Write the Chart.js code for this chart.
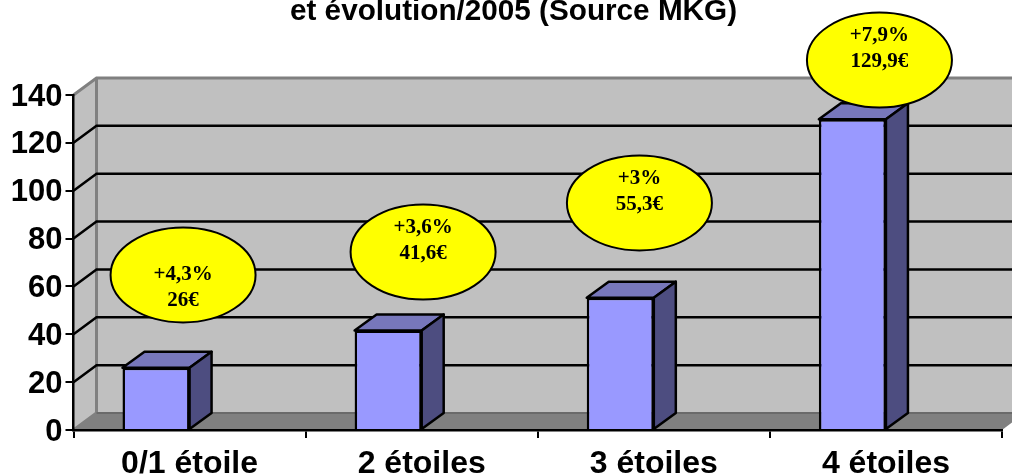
<!DOCTYPE html>
<html>
<head>
<meta charset="utf-8">
<script src="https://cdn.jsdelivr.net/npm/chart.js@4/dist/chart.umd.min.js"></script>
<style>
html, body { margin: 0; padding: 0; background: #fff; overflow: hidden; }
#wrap { width: 1012px; height: 474px; }
</style>
</head>
<body>
<div id="wrap"><canvas id="myChart"></canvas></div>
<script>
const categories = ['0/1 étoile', '2 étoiles', '3 étoiles', '4 étoiles'];
const prices = [26, 41.6, 55.3, 129.9];
const titleText = 'et évolution/2005 (Source MKG)';

// yellow callouts: centre as category position / axis value
const bubbleLine1 = ['+4,3%', '+3,6%', '+3%', '+7,9%'];
const bubbleLine2 = ['26€', '41,6€', '55,3€', '129,9€'];
const bubbleCat = [-0.028, 1.006, 1.938, 2.972];
const bubbleVal = [64.8, 74.4, 94.9, 154.6];

const DX = 23, DY = 17;

const depth3d = {
    id: 'depth3d',
    afterLayout(chart) {
        // title is centred a little right of the canvas
        chart.titleBlock.left += 10;
        chart.titleBlock.right += 10;
    },
    beforeDraw(chart) {
        const { ctx, chartArea: a, scales: { y } } = chart;
        const far = chart.width + 30;
        ctx.save();
        // back + side wall
        ctx.fillStyle = '#c0c0c0';
        ctx.beginPath();
        ctx.moveTo(a.left, a.bottom);
        ctx.lineTo(a.left, a.top);
        ctx.lineTo(a.left + DX, a.top - DY);
        ctx.lineTo(far, a.top - DY);
        ctx.lineTo(far, a.bottom - DY);
        ctx.lineTo(a.left + DX, a.bottom - DY);
        ctx.closePath();
        ctx.fill();
        // floor
        ctx.fillStyle = '#808080';
        ctx.beginPath();
        ctx.moveTo(a.left, a.bottom);
        ctx.lineTo(a.left + DX, a.bottom - DY);
        ctx.lineTo(a.right + DX, a.bottom - DY);
        ctx.lineTo(a.right, a.bottom);
        ctx.closePath();
        ctx.fill();
        // wall edges
        ctx.strokeStyle = '#808080';
        ctx.lineWidth = 3;
        ctx.beginPath();
        ctx.moveTo(a.left, a.top);
        ctx.lineTo(a.left + DX, a.top - DY);
        ctx.lineTo(far, a.top - DY);
        ctx.moveTo(a.left + DX, a.top - DY);
        ctx.lineTo(a.left + DX, a.bottom - DY);
        ctx.moveTo(a.left, a.bottom);
        ctx.lineTo(a.left + DX, a.bottom - DY);
        ctx.stroke();
        ctx.strokeStyle = '#6a6a6a';
        ctx.lineWidth = 2;
        ctx.beginPath();
        ctx.moveTo(a.left + DX, a.bottom - DY);
        ctx.lineTo(far, a.bottom - DY);
        ctx.stroke();
        // gridlines run up the side wall then along the back
        ctx.strokeStyle = '#000';
        ctx.lineWidth = 2.5;
        ctx.beginPath();
        y.ticks.forEach(t => {
            if (t.value === 0 || t.value === y.max) return;
            const py = y.getPixelForValue(t.value);
            ctx.moveTo(a.left, py);
            ctx.lineTo(a.left + DX, py - DY);
            ctx.lineTo(far, py - DY);
        });
        ctx.stroke();
        ctx.restore();
    },
    afterDatasetsDraw(chart) {
        const { ctx, scales: { x, y } } = chart;
        const meta = chart.getDatasetMeta(0);
        const dx = 22, dy = 16;
        ctx.save();
        ctx.lineWidth = 2.5;
        ctx.strokeStyle = '#000';
        ctx.lineJoin = 'round';
        meta.data.forEach(bar => {
            const p = bar.getProps(['x', 'y', 'base', 'width']);
            const l = p.x - p.width / 2, r = p.x + p.width / 2;
            // top face
            ctx.fillStyle = '#7777bb';
            ctx.beginPath();
            ctx.moveTo(l, p.y);
            ctx.lineTo(l + dx, p.y - dy);
            ctx.lineTo(r + dx, p.y - dy);
            ctx.lineTo(r, p.y);
            ctx.closePath();
            ctx.fill();
            ctx.stroke();
            // right face
            ctx.fillStyle = '#4d4d80';
            ctx.beginPath();
            ctx.moveTo(r, p.y);
            ctx.lineTo(r + dx, p.y - dy);
            ctx.lineTo(r + dx, p.base - dy);
            ctx.lineTo(r, p.base);
            ctx.closePath();
            ctx.fill();
            ctx.stroke();
        });
        // callouts
        ctx.textAlign = 'center';
        ctx.textBaseline = 'middle';
        ctx.font = 'bold 21px "Liberation Serif"';
        bubbleCat.forEach((c, i) => {
            const cx = x.getPixelForValue(c), cy = y.getPixelForValue(bubbleVal[i]);
            ctx.fillStyle = '#ffff00';
            ctx.lineWidth = 2;
            ctx.beginPath();
            ctx.ellipse(cx, cy, 72.5, 47.5, 0, 0, Math.PI * 2);
            ctx.fill();
            ctx.stroke();
            ctx.fillStyle = '#000';
            const shift = i === 0 ? 24 : 0;
            ctx.fillText(bubbleLine1[i], cx, cy - 24 + shift);
            ctx.fillText(bubbleLine2[i], cx, cy + 2 + shift);
        });
        ctx.restore();
    }
};

const myChart = new Chart(document.getElementById('myChart').getContext('2d'), {
    type: 'bar',
    data: {
        labels: categories,
        datasets: [
            {
                label: 'Prix',
                data: prices,
                backgroundColor: '#9999ff',
                borderColor: '#000',
                borderWidth: 2.5
            },
            // empty partner so the box sits left of the category centre
            { label: '', data: [null, null, null, null] }
        ]
    },
    options: {
        responsive: true,
        maintainAspectRatio: false,
        animation: false,
        categoryPercentage: 0.578,
        barPercentage: 1,
        layout: { padding: { left: 5, right: 10, top: 0, bottom: 0 } },
        plugins: {
            legend: { display: false },
            tooltip: { enabled: false },
            title: {
                display: true,
                text: titleText,
                color: '#000',
                font: { family: '"Liberation Sans"', size: 29.7, weight: 'bold', lineHeight: 1 },
                padding: { top: -3, bottom: 68.3 }
            }
        },
        scales: {
            x: {
                grid: { drawOnChartArea: false, color: '#000', lineWidth: 2, tickLength: 8, tickColor: '#000' },
                border: { color: '#000', width: 2.5 },
                ticks: {
                    color: '#000',
                    font: { family: '"Liberation Sans"', size: 32, weight: 'bold' },
                    maxRotation: 0,
                    padding: 7
                },
                afterFit(s) { s.height = 44; }
            },
            y: {
                min: 0,
                max: 140,
                grid: { drawOnChartArea: false, color: '#000', lineWidth: 2, tickLength: 8, tickColor: '#000' },
                border: { color: '#000', width: 2.5 },
                ticks: {
                    stepSize: 20,
                    color: '#000',
                    font: { family: '"Liberation Sans"', size: 31, weight: 'bold' },
                    padding: 3,
                    labelOffset: 2
                },
                afterFit(s) { s.width = 68.5; }
            }
        }
    },
    plugins: [depth3d]
});
</script>
</body>
</html>
